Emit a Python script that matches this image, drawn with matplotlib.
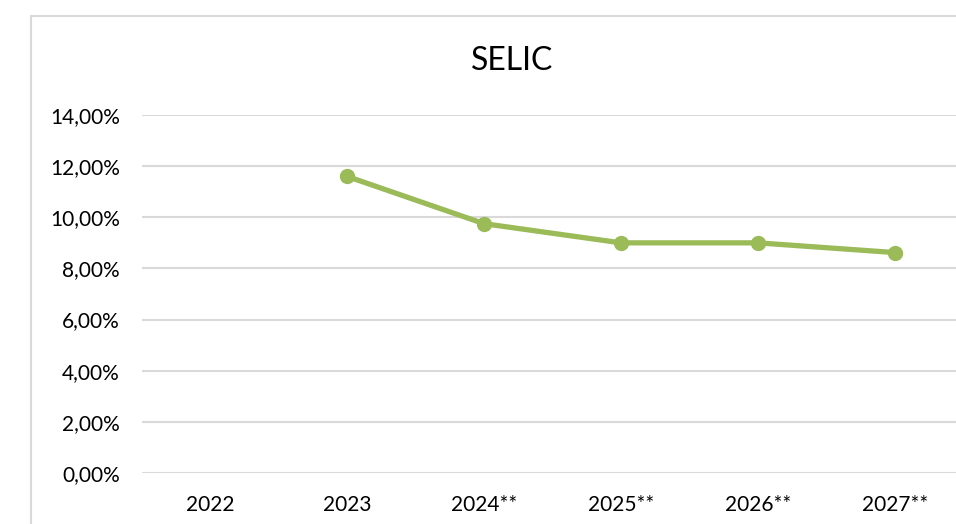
import matplotlib
matplotlib.use("Agg")
import matplotlib.pyplot as plt
from matplotlib.patches import Rectangle
import numpy as np

categories = ["2022", "2023", "2024**", "2025**", "2026**", "2027**"]
selic = [np.nan, 11.6, 9.75, 9.0, 9.0, 8.62]
yticks = [0, 2, 4, 6, 8, 10, 12, 14]
ytick_labels = ["0,00%", "2,00%", "4,00%", "6,00%", "8,00%", "10,00%", "12,00%", "14,00%"]
title = "SELIC"

plt.rcParams['font.family'] = ['Lato', 'DejaVu Sans']

W, H = 956, 524
fig = plt.figure(figsize=(W / 100, H / 100), dpi=100)
fig.patch.set_facecolor("white")

# outer chart frame
fig.patches.append(Rectangle((31 / W, -0.1), 1.2, (H - 16) / H + 0.1,
                             transform=fig.transFigure, fill=False,
                             edgecolor="#D9D9D9", linewidth=1.5, zorder=0))

left = 141.5 / W
right = 963.5 / W
bottom = (H - 473) / H
top = (H - 115) / H
ax = fig.add_axes([left, bottom, right - left, top - bottom])

x = np.arange(len(categories))
ax.plot(x, selic, color="#9BBB59", linewidth=3.8, marker="o",
        markersize=10, markerfacecolor="#9BBB59", markeredgecolor="#9BBB59",
        solid_capstyle="round", zorder=3, clip_on=False)

ax.set_xlim(-0.5, len(categories) - 0.5)
ax.set_ylim(0, 14)
ax.set_yticks(yticks)
ax.set_yticklabels(ytick_labels)
ax.set_xticks(x)
ax.set_xticklabels(categories)

for s in ax.spines.values():
    s.set_visible(False)
ax.grid(axis="y", color="#D9D9D9", linewidth=1.5)
ax.set_axisbelow(True)
ax.tick_params(axis="both", length=0, labelsize=15, colors="#000000")
ax.tick_params(axis="y", pad=15.5)
ax.tick_params(axis="x", pad=16)

fig.text(512 / W, (H - 61) / H, title, ha="center", va="center", fontsize=23, color="#000000")

fig.savefig("out.png", dpi=100, facecolor="white")
